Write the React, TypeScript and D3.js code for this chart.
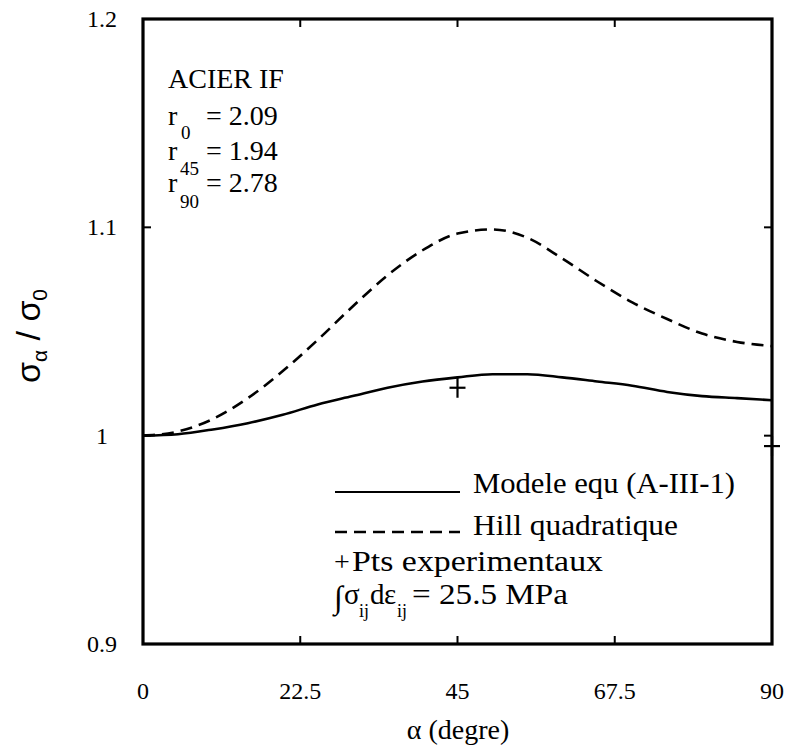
import React from "react";
import * as d3 from "d3";

// ---- data ----
const ALPHA = [0, 5, 10, 15, 20, 25, 30, 35, 40, 45, 50, 55, 60, 65, 70, 75, 80, 85, 90];
const MODELE = [1.0, 1.0007, 1.003, 1.006, 1.01, 1.015, 1.019, 1.023, 1.026, 1.028, 1.0295, 1.0295, 1.028, 1.026, 1.024, 1.021, 1.019, 1.018, 1.017];
const HILL = [1.0, 1.002, 1.008, 1.018, 1.031, 1.046, 1.062, 1.077, 1.089, 1.097, 1.099, 1.095, 1.085, 1.074, 1.064, 1.056, 1.049, 1.045, 1.043];
const EXP_ALPHA = [45, 90];
const EXP_VALUE = [1.023, 0.995];
const X_TICKS = [0, 22.5, 45, 67.5, 90];
const X_TICK_LABELS = ["0", "22.5", "45", "67.5", "90"];
const X_INNER_TICKS = [22.5, 45, 67.5];
const Y_TICKS = [0.9, 1, 1.1, 1.2];
const Y_TICK_LABELS = ["0.9", "1", "1.1", "1.2"];
const Y_INNER_TICKS = [1, 1.1];

const W = 795;
const H = 745;
const LEFT = 143;
const RIGHT = 772;
const TOP = 19;
const BOTTOM = 644;

const SERIF = "Liberation Serif, Times New Roman, serif";
const SANS = "Liberation Sans, Arial, sans-serif";

export default function App() {
  const x = d3.scaleLinear().domain([0, 90]).range([LEFT, RIGHT]);
  const y = d3.scaleLinear().domain([0.9, 1.2]).range([BOTTOM, TOP]);

  const line = d3
    .line<number>()
    .x((_, i) => x(ALPHA[i]))
    .y((v) => y(v))
    .curve(d3.curveMonotoneX);

  const tickLen = 8;
  const serif = { fontFamily: SERIF };

  return (
    <svg
      width={W}
      height={H}
      style={{ position: "absolute", left: 0, top: 0, background: "#fff" }}
    >
      <rect x={0} y={0} width={W} height={H} fill="#fff" />

      {/* curves */}
      <path d={line(HILL) || ""} fill="none" stroke="#000" strokeWidth={2.6} strokeDasharray="12 7" />
      <path d={line(MODELE) || ""} fill="none" stroke="#000" strokeWidth={2.6} />

      {/* experimental points */}
      {EXP_ALPHA.map((a, i) => (
        <g key={"p" + i} stroke="#000" strokeWidth={2.2}>
          <line x1={x(a) - 8} x2={x(a) + 8} y1={y(EXP_VALUE[i])} y2={y(EXP_VALUE[i])} />
          <line x1={x(a)} x2={x(a)} y1={y(EXP_VALUE[i]) - 10} y2={y(EXP_VALUE[i]) + 10} />
        </g>
      ))}

      {/* frame */}
      <rect
        x={LEFT}
        y={TOP}
        width={RIGHT - LEFT}
        height={BOTTOM - TOP}
        fill="none"
        stroke="#000"
        strokeWidth={3.2}
      />

      {/* inner ticks */}
      {X_INNER_TICKS.map((t) => (
        <g key={"xt" + t} stroke="#000" strokeWidth={2}>
          <line x1={x(t)} x2={x(t)} y1={BOTTOM} y2={BOTTOM - tickLen} />
          <line x1={x(t)} x2={x(t)} y1={TOP} y2={TOP + tickLen} />
        </g>
      ))}
      {Y_INNER_TICKS.map((t) => (
        <g key={"yt" + t} stroke="#000" strokeWidth={2}>
          <line x1={LEFT} x2={LEFT + tickLen} y1={y(t)} y2={y(t)} />
          <line x1={RIGHT} x2={RIGHT - tickLen} y1={y(t)} y2={y(t)} />
        </g>
      ))}

      {/* tick labels */}
      {X_TICKS.map((t, i) => (
        <text
          key={"xl" + t}
          x={x(t)}
          y={699}
          textAnchor="middle"
          style={serif}
          fontSize={24}
          fill="#000"
        >
          {X_TICK_LABELS[i]}
        </text>
      ))}
      {Y_TICKS.map((t, i) => (
        <text
          key={"yl" + t}
          x={LEFT - 41}
          y={y(t) + 8}
          textAnchor="middle"
          style={serif}
          fontSize={24}
          fill="#000"
        >
          {Y_TICK_LABELS[i]}
        </text>
      ))}

      {/* axis titles */}
      <text x={458} y={739} textAnchor="middle" style={serif} fontSize={28} fill="#000">
        α (degre)
      </text>
      <text
        transform="translate(40,336) rotate(-90)"
        textAnchor="middle"
        style={{ fontFamily: SANS }}
        fontSize={34}
        fill="#000"
      >
        σ
        <tspan fontSize={21} dy={7}>α</tspan>
        <tspan dy={-7}> / σ</tspan>
        <tspan fontSize={21} dy={7}>0</tspan>
      </text>

      {/* material block */}
      <g style={serif} fill="#000">
        <text x={168} y={88} fontSize={28}>ACIER IF</text>
        <text x={168} y={125} fontSize={28}>r</text>
        <text x={181} y={139} fontSize={19}>0</text>
        <text x={206} y={125} fontSize={28}>= 2.09</text>
        <text x={168} y={160} fontSize={28}>r</text>
        <text x={180} y={175} fontSize={19}>45</text>
        <text x={206} y={160} fontSize={28}>= 1.94</text>
        <text x={168} y={192} fontSize={28}>r</text>
        <text x={180} y={208} fontSize={19}>90</text>
        <text x={206} y={192} fontSize={28}>= 2.78</text>
      </g>

      {/* legend */}
      <g style={serif} fill="#000">
        <line x1={335} x2={460} y1={492} y2={492} stroke="#000" strokeWidth={2.2} />
        <text x={473} y={493} fontSize={29} textLength={262} lengthAdjust="spacingAndGlyphs">
          Modele equ (A-III-1)
        </text>
        <line x1={335} x2={460} y1={532} y2={532} stroke="#000" strokeWidth={2.6} strokeDasharray="12 7" />
        <text x={473} y={535} fontSize={29} textLength={205} lengthAdjust="spacingAndGlyphs">
          Hill quadratique
        </text>
        <text x={334} y={571} fontSize={28}>+</text>
        <text x={352} y={571} fontSize={29} textLength={251} lengthAdjust="spacingAndGlyphs">
          Pts experimentaux
        </text>
        <text x={334} y={608} fontSize={32}>∫</text>
        <text x={344} y={604} fontSize={29}>σ</text>
        <text x={359} y={617} fontSize={18}>ij</text>
        <text x={370} y={604} fontSize={29}>d</text>
        <text x={384} y={604} fontSize={29}>ε</text>
        <text x={397} y={617} fontSize={18}>ij</text>
        <text x={412} y={604} fontSize={29} textLength={156} lengthAdjust="spacingAndGlyphs">
          = 25.5 MPa
        </text>
      </g>
    </svg>
  );
}
